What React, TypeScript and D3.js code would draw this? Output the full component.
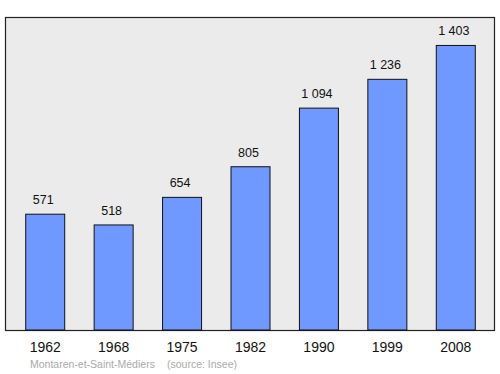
import React from "react";
import * as d3 from "d3";

const years = ["1962", "1968", "1975", "1982", "1990", "1999", "2008"];
const population = [571, 518, 654, 805, 1094, 1236, 1403];
const labels = ["571", "518", "654", "805", "1 094", "1 236", "1 403"];
const commune = "Montaren-et-Saint-Médiers";
const source = "(source: Insee)";

export default function App() {
  const W = 500, H = 374;
  const plot = { x0: 5.5, y0: 17.5, x1: 494.5, y1: 330.5 };
  const x = d3.scaleBand<string>().domain(years).range([11, 490]).paddingInner(0.43).paddingOuter(0.215);
  const yMax = d3.max(population)! * 1.1;
  const y = d3.scaleLinear().domain([0, yMax]).range([330, 17]);
  const font = "'Liberation Sans', Arial, sans-serif";
  return (
    <svg width={W} height={H} style={{ position: "absolute", left: 0, top: 0 }} fontFamily={font}>
      <rect x={plot.x0} y={plot.y0} width={plot.x1 - plot.x0} height={plot.y1 - plot.y0} fill="#ebebeb" stroke="#222" strokeWidth={1.2} />
      {years.map((yr, i) => (
        <g key={yr}>
          <rect x={x(yr)!} y={y(population[i])} width={x.bandwidth()} height={330 - y(population[i])} fill="#7099ff" stroke="#111" strokeWidth={1} />
          <text x={x(yr)! + x.bandwidth() / 2 - 2} y={y(population[i]) - 10} textAnchor="middle" fontSize={12.5} fill="#111">{labels[i]}</text>
          <text x={x(yr)! + x.bandwidth() / 2} y={352} textAnchor="middle" fontSize={14} fill="#111">{yr}</text>
        </g>
      ))}
      <text x={30} y={368} fontSize={10.5} fill="#aaa">{commune}</text>
      <text x={167} y={368} fontSize={10.5} fill="#aaa">{source}</text>
    </svg>
  );
}
